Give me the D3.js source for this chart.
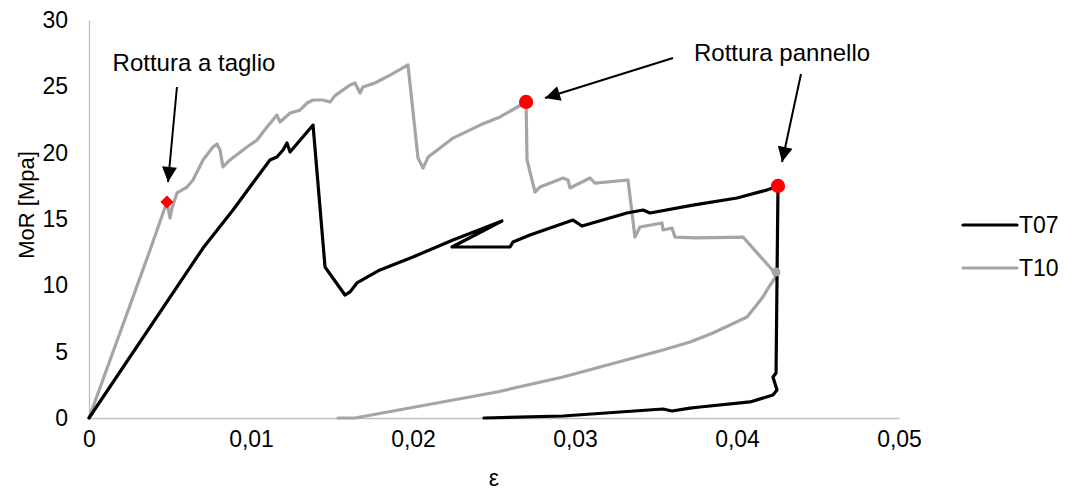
<!DOCTYPE html>
<html>
<head>
<meta charset="utf-8">
<script src="https://cdn.jsdelivr.net/npm/d3@7"></script>
<style>
  html, body { margin: 0; padding: 0; background: #fff; }
  svg { display: block; font-family: "Liberation Sans", Arial, sans-serif; }
</style>
</head>
<body>
<svg id="chart" width="1067" height="492"></svg>
<script>
// Strain ε vs modulus of rupture MoR [MPa] for two specimens
const t07 = [
  [0, 0], [0.00704, 12.81], [0.00889, 15.68], [0.01025, 17.94], [0.01117, 19.45],
  [0.0116, 19.67], [0.01198, 20.2], [0.01222, 20.73], [0.01241, 20.05], [0.01383, 22.08],
  [0.01457, 11.38], [0.0158, 9.27], [0.01611, 9.5], [0.01654, 10.18], [0.01796, 11.16],
  [0.02, 12.14], [0.02247, 13.42], [0.02549, 14.85], [0.02241, 12.89], [0.02599, 12.89],
  [0.02617, 13.27], [0.02722, 13.79], [0.02988, 14.92], [0.03043, 14.47], [0.03321, 15.45],
  [0.0342, 15.68], [0.03463, 15.45], [0.03728, 16.05], [0.04, 16.58], [0.04185, 17.19],
  [0.04253, 17.49], [0.04241, 3.39], [0.04222, 3.09], [0.04247, 2.11], [0.04222, 1.73],
  [0.0408, 1.21], [0.03772, 0.83], [0.0371, 0.75], [0.03599, 0.53], [0.03543, 0.68],
  [0.02926, 0.15], [0.02438, 0]
];

const t10 = [
  [0, 0], [0.00377, 12.66], [0.00481, 16.28], [0.005, 15.07], [0.00512, 15.8],
  [0.00543, 16.96], [0.00605, 17.41], [0.00642, 17.94], [0.00704, 19.45], [0.00765, 20.43],
  [0.0079, 20.65], [0.00809, 20.2], [0.00827, 18.92], [0.0087, 19.45], [0.00975, 20.43],
  [0.01037, 20.95], [0.01099, 21.93], [0.0116, 22.84], [0.01179, 22.31], [0.01241, 22.99],
  [0.01302, 23.2], [0.01346, 23.74], [0.01383, 23.97], [0.01444, 23.97], [0.01488, 23.82],
  [0.01519, 24.3], [0.01611, 25.1], [0.01642, 25.25], [0.01673, 24.5], [0.01691, 24.95],
  [0.01765, 25.25], [0.01858, 25.85], [0.01969, 26.61], [0.02031, 19.6], [0.02062, 18.84],
  [0.02093, 19.67], [0.02167, 20.35], [0.02247, 21.1], [0.02414, 22.08], [0.02537, 22.69],
  [0.02698, 23.82], [0.02704, 19.45], [0.02753, 17.03], [0.02784, 17.41], [0.02926, 18.09],
  [0.02957, 17.94], [0.02969, 17.34], [0.03093, 18.09], [0.03123, 17.71], [0.03327, 17.94],
  [0.0337, 13.64], [0.03401, 14.4], [0.03537, 14.7], [0.03543, 14.17], [0.03599, 14.32],
  [0.03617, 13.64], [0.03753, 13.57], [0.04037, 13.64], [0.04235, 10.93], [0.04241, 11.0],
  [0.04235, 10.55], [0.04198, 9.9], [0.0416, 9.12], [0.04062, 7.61], [0.03852, 6.41],
  [0.0371, 5.73], [0.03543, 5.13], [0.02926, 3.09], [0.02518, 1.96], [0.01642, 0],
  [0.01537, 0]
];

const seriesNames = ["T07", "T10"];
const seriesColors = ["#000000", "#A5A5A5"];

const xTicks = [0, 0.01, 0.02, 0.03, 0.04, 0.05];
const yTicks = [0, 5, 10, 15, 20, 25, 30];

// failure points: [ε, MoR, shape]
const failurePoints = [
  [0.00481, 16.28, "diamond"],
  [0.02698, 23.82, "circle"],
  [0.04253, 17.49, "circle"]
];

// callouts: text position and arrows (from → tip), in data units
const callouts = [
  { text: "Rottura a taglio", at: [0.00648, 26.76], arrows: [[[0.00543, 24.95], [0.00488, 17.79]]] },
  { text: "Rottura pannello", at: [0.04278, 27.51], arrows: [
      [[0.03605, 27.14], [0.02815, 24.12]],
      [[0.04395, 25.93], [0.04278, 19.3]]
  ] }
];

const svg = d3.select("#chart");
const margin = { left: 89, top: 20, right: 168, bottom: 74 };
const W = 1067, H = 492;

const x = d3.scaleLinear().domain([0, 0.05]).range([margin.left, W - margin.right]);
const y = d3.scaleLinear().domain([0, 30]).range([H - margin.bottom, margin.top]);

const fmt = d => d3.format(".2~f")(d).replace(".", ",");

// axes: plain lines with labels, no tick marks
const xAxis = svg.append("g")
  .attr("transform", `translate(0,${y(0)})`)
  .call(d3.axisBottom(x).tickValues(xTicks).tickFormat(fmt).tickSize(0).tickPadding(13));
const yAxis = svg.append("g")
  .attr("transform", `translate(${x(0)},0)`)
  .call(d3.axisLeft(y).tickValues(yTicks).tickSize(0).tickPadding(21));

[xAxis, yAxis].forEach(g => {
  g.select(".domain").attr("stroke", "#BFBFBF").attr("stroke-width", 1.3);
  g.selectAll("text").attr("font-size", 23).attr("fill", "#000")
    .attr("font-family", "'Liberation Sans', Arial, sans-serif");
});

// axis titles
svg.append("text")
  .attr("x", (x(0) + x(0.05)) / 2).attr("y", 486)
  .attr("text-anchor", "middle").attr("font-size", 23).text("ε");
svg.append("text")
  .attr("transform", `translate(34,205) rotate(-90)`)
  .attr("text-anchor", "middle").attr("font-size", 22).text("MoR [Mpa]");

// series lines
const line = d3.line().x(d => x(d[0])).y(d => y(d[1]));
[[t10, 1], [t07, 0]].forEach(([data, idx]) => {
  svg.append("path")
    .datum(data)
    .attr("d", line)
    .attr("fill", "none")
    .attr("stroke", seriesColors[idx])
    .attr("stroke-width", 3.2)
    .attr("stroke-linejoin", "round")
    .attr("stroke-linecap", "round");
});

// end-of-unloading blob on T10
svg.append("circle")
  .attr("cx", x(0.04241)).attr("cy", y(11.0)).attr("r", 4.5).attr("fill", "#A5A5A5");

// failure markers
svg.selectAll(".fail")
  .data(failurePoints)
  .join("path")
  .attr("class", "fail")
  .attr("d", d => d3.symbol()
    .type(d[2] === "diamond" ? d3.symbolSquare : d3.symbolCircle)
    .size(d[2] === "diamond" ? 85 : 160)())
  .attr("transform", d => `translate(${x(d[0])},${y(d[1])})` + (d[2] === "diamond" ? " rotate(45)" : ""))
  .attr("fill", "#FF0000");

// arrowhead
svg.append("defs").append("marker")
  .attr("id", "head")
  .attr("viewBox", "0 0 10 10")
  .attr("refX", 10).attr("refY", 5)
  .attr("markerUnits", "userSpaceOnUse")
  .attr("markerWidth", 16).attr("markerHeight", 15)
  .attr("orient", "auto")
  .append("path").attr("d", "M0,0 L10,5 L0,10 Z").attr("fill", "#000");

callouts.forEach(c => {
  svg.append("text")
    .attr("x", x(c.at[0])).attr("y", y(c.at[1]))
    .attr("dy", "0.35em")
    .attr("text-anchor", "middle").attr("font-size", 24).text(c.text);
  c.arrows.forEach(a => {
    svg.append("line")
      .attr("x1", x(a[0][0])).attr("y1", y(a[0][1]))
      .attr("x2", x(a[1][0])).attr("y2", y(a[1][1]))
      .attr("stroke", "#000").attr("stroke-width", 2)
      .attr("marker-end", "url(#head)");
  });
});

// legend
const legend = svg.append("g").attr("transform", "translate(963,225)");
seriesNames.forEach((name, i) => {
  const g = legend.append("g").attr("transform", `translate(0,${i * 43})`);
  g.append("line").attr("x1", 0).attr("x2", 54).attr("y1", 0).attr("y2", 0)
    .attr("stroke", seriesColors[i]).attr("stroke-width", 3.2).attr("stroke-linecap", "round");
  g.append("text").attr("x", 56).attr("y", 0).attr("dy", "0.35em")
    .attr("font-size", 23).text(name);
});
</script>
</body>
</html>
